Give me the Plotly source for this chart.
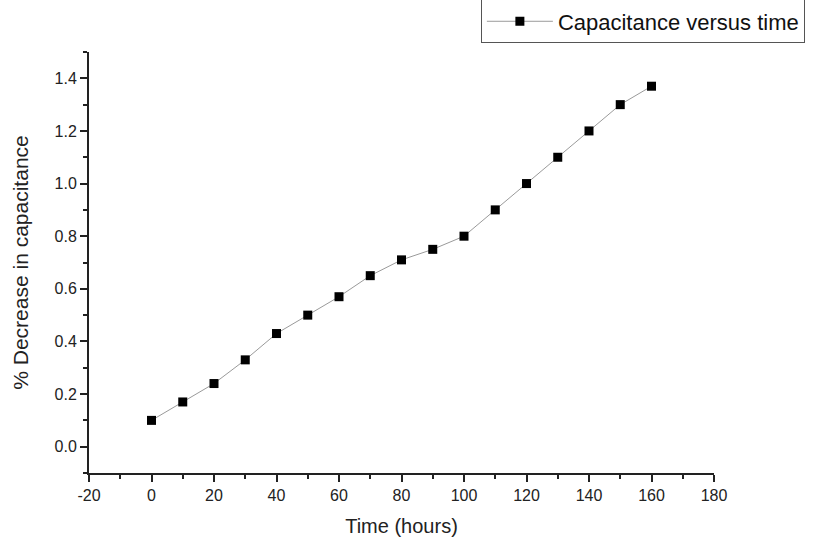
import plotly.graph_objects as go

time_hours = [0, 10, 20, 30, 40, 50, 60, 70, 80, 90, 100, 110, 120, 130, 140, 150, 160]
pct_decrease = [0.10, 0.17, 0.24, 0.33, 0.43, 0.50, 0.57, 0.65, 0.71, 0.75, 0.80,
                0.90, 1.00, 1.10, 1.20, 1.30, 1.37]
series_name = "Capacitance versus time"

x_tickvals = [-20, 0, 20, 40, 60, 80, 100, 120, 140, 160, 180]
x_ticktext = ["-20", "0", "20", "40", "60", "80", "100", "120", "140", "160", "180"]
y_tickvals = [0.0, 0.2, 0.4, 0.6, 0.8, 1.0, 1.2, 1.4]
y_ticktext = ["0.0", "0.2", "0.4", "0.6", "0.8", "1.0", "1.2", "1.4"]

FONT = "Liberation Sans, Arial"

fig = go.Figure()
fig.add_trace(go.Scatter(
    x=time_hours, y=pct_decrease, mode="lines+markers", name=series_name,
    line=dict(color="#9a9a9a", width=1),
    marker=dict(symbol="square", size=9, color="black"),
    showlegend=True,
))

axis_common = dict(
    showline=True, linecolor="#222", linewidth=2,
    ticks="outside", ticklen=7, tickwidth=2, tickcolor="#222",
    showgrid=False, zeroline=False, mirror=False,
    tickfont=dict(family=FONT, size=16, color="#222"),
)

fig.update_layout(
    width=837, height=542,
    margin=dict(l=89, r=123, t=52, b=69, autoexpand=False),
    paper_bgcolor="white", plot_bgcolor="white",
    showlegend=True,
    legend=dict(
        x=0.627, y=1.0725, xanchor="left", yanchor="middle",
        bordercolor="#555", borderwidth=1, bgcolor="white",
        font=dict(family=FONT, size=22, color="#111"),
        itemwidth=66,
    ),
    xaxis=dict(
        range=[-20, 180], tickmode="array", tickvals=x_tickvals, ticktext=x_ticktext,
        minor=dict(ticks="outside", dtick=10, tick0=-20, ticklen=4, tickwidth=2, tickcolor="#222"),
        title=dict(text="Time (hours)", font=dict(family=FONT, size=20, color="#222"), standoff=16),
        **axis_common,
    ),
    yaxis=dict(
        range=[-0.1, 1.5], tickmode="array", tickvals=y_tickvals, ticktext=y_ticktext,
        minor=dict(ticks="outside", dtick=0.1, tick0=0, ticklen=4, tickwidth=2, tickcolor="#222"),
        title=dict(text="% Decrease in capacitance", font=dict(family=FONT, size=21, color="#222"), standoff=20),
        **axis_common,
    ),
)

fig.write_html("out.html")
